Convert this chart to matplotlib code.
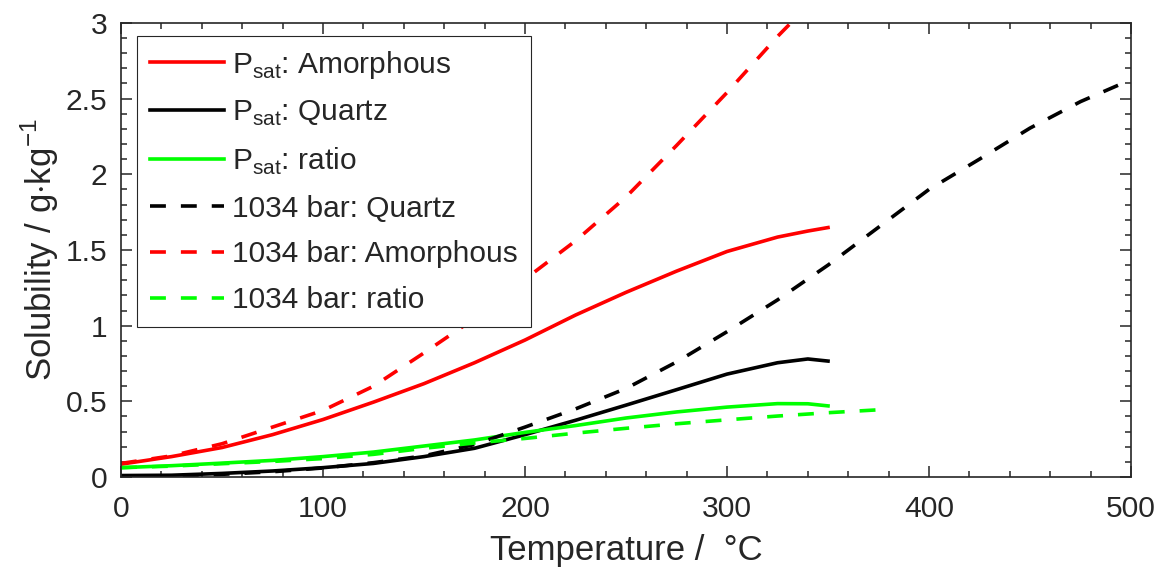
import numpy as np
import matplotlib.pyplot as plt
from matplotlib.ticker import MultipleLocator

# values (temperature in degC, solubility in g/kg)
T_sat = [0, 25, 50, 75, 100, 125, 150, 175, 200, 225, 250, 275, 300, 325, 340, 350]
amor_sat = [0.085, 0.135, 0.195, 0.28, 0.38, 0.495, 0.617, 0.755, 0.905, 1.07,
            1.22, 1.36, 1.49, 1.585, 1.625, 1.648]
quartz_sat = [0.01, 0.012, 0.024, 0.04, 0.062, 0.09, 0.135, 0.19, 0.28, 0.375,
              0.475, 0.577, 0.68, 0.755, 0.78, 0.766]
ratio_sat = [0.062, 0.075, 0.092, 0.11, 0.135, 0.165, 0.205, 0.245, 0.295, 0.34,
             0.39, 0.43, 0.462, 0.485, 0.484, 0.47]

T_quartz = [0, 25, 50, 75, 100, 125, 150, 175, 200, 225, 250, 275, 300, 325,
            350, 375, 400, 425, 450, 475, 500]
quartz_1034 = [0.005, 0.008, 0.018, 0.035, 0.06, 0.095, 0.14, 0.215, 0.33, 0.45,
               0.585, 0.76, 0.96, 1.17, 1.40, 1.65, 1.90, 2.10, 2.305, 2.48, 2.625]

T_amor = [0, 25, 50, 75, 100, 125, 150, 175, 200, 225, 250, 275, 300, 325, 350]
amor_1034 = [0.09, 0.14, 0.22, 0.33, 0.44, 0.60, 0.82, 1.047, 1.307, 1.56,
             1.85, 2.19, 2.54, 2.91, 3.25]

T_ratio = [0, 25, 50, 75, 100, 125, 150, 175, 200, 225, 250, 275, 300, 325, 350, 380]
ratio_1034 = [0.062, 0.072, 0.088, 0.103, 0.122, 0.15, 0.19, 0.225, 0.255, 0.29,
              0.322, 0.352, 0.378, 0.403, 0.425, 0.448]

plt.rcParams.update({
    "font.family": ["Liberation Sans", "DejaVu Sans"],
    "mathtext.fontset": "custom",
    "mathtext.rm": "Liberation Sans",
    "text.color": "#262626",
    "axes.labelcolor": "#262626",
    "xtick.color": "#262626",
    "ytick.color": "#262626",
})

RED = "#ff0000"
GREEN = "#00ff00"
LW = 2.6
DASH = (4.4, 4.15)

fig = plt.figure(figsize=(11.58, 5.72), dpi=100)
ax = fig.add_axes([0.1045, 0.166, 0.8722, 0.794])

ax.plot(T_sat, amor_sat, color=RED, lw=LW, label=r"P$_{\mathregular{sat}}$: Amorphous")
ax.plot(T_sat, quartz_sat, color="black", lw=LW, label=r"P$_{\mathregular{sat}}$: Quartz")
ax.plot(T_sat, ratio_sat, color=GREEN, lw=LW, label=r"P$_{\mathregular{sat}}$: ratio")
ax.plot(T_quartz, quartz_1034, color="black", lw=LW, dashes=DASH, label="1034 bar: Quartz")
ax.plot(T_amor, amor_1034, color=RED, lw=LW, dashes=DASH, label="1034 bar: Amorphous")
ax.plot(T_ratio, ratio_1034, color=GREEN, lw=LW, dashes=DASH, label="1034 bar: ratio")

ax.set_xlim(0, 500)
ax.set_ylim(0, 3)
ax.xaxis.set_major_locator(MultipleLocator(100))
ax.xaxis.set_minor_locator(MultipleLocator(20))
ax.yaxis.set_minor_locator(MultipleLocator(0.1))
ax.set_yticks([0, 0.5, 1, 1.5, 2, 2.5, 3])
ax.set_yticklabels(["0", "0.5", "1", "1.5", "2", "2.5", "3"])

ax.tick_params(which="both", direction="in", top=True, right=True, width=1.1,
               labelsize=21.6)
ax.tick_params(which="major", length=7.7)
ax.tick_params(which="minor", length=4)
ax.tick_params(axis="x", pad=13)
ax.tick_params(axis="y", pad=10)
for s in ax.spines.values():
    s.set_color("#262626")
    s.set_linewidth(1.2)

ax.set_xlabel("Temperature /  °C", fontsize=25, labelpad=8)
ax.set_ylabel(r"Solubility / g$\cdot$kg$^{\mathregular{-1}}$", fontsize=25, labelpad=3)

leg = ax.legend(loc="upper left", bbox_to_anchor=(0.0158, 0.971), borderaxespad=0,
                fontsize=21.5, handlelength=2.5, handletextpad=0.27,
                labelspacing=0.6, borderpad=0.42, fancybox=False,
                framealpha=1, edgecolor="#262626")
leg.get_frame().set_linewidth(0.8)

fig.savefig("out.png", dpi=100)
